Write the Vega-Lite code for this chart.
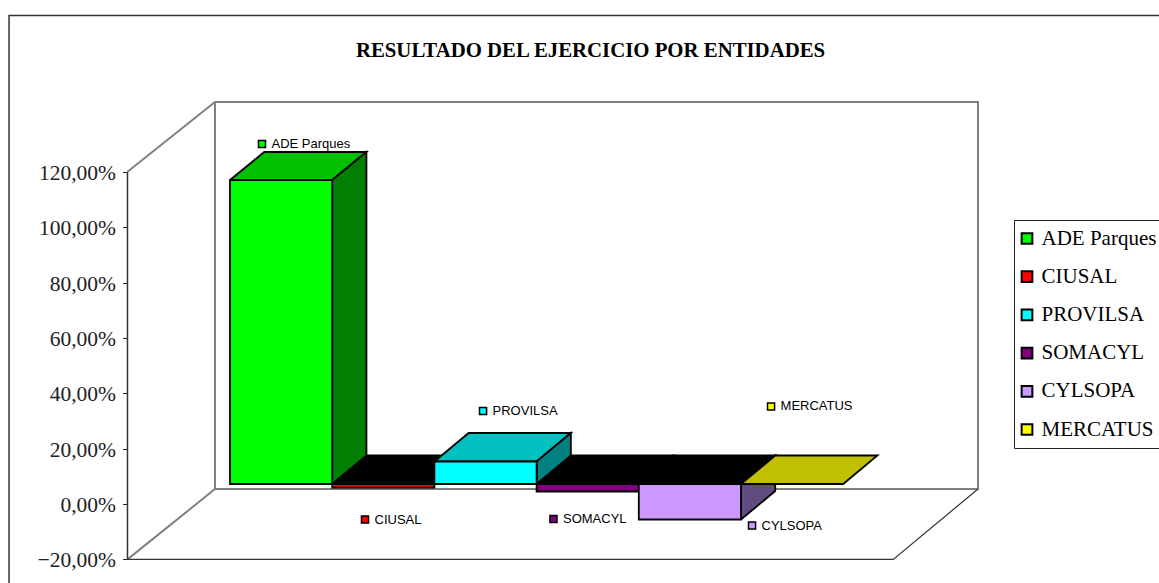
{
"$schema":"https://vega.github.io/schema/vega-lite/v6.json",
"width":1159,"height":523,"autosize":"none","padding":{"top":60,"left":0,"right":0,"bottom":0},
"background":"white",
"title":{"text":"RESULTADO DEL EJERCICIO POR ENTIDADES","font":"Liberation Serif","fontSize":20.8,"fontWeight":"bold","color":"black","anchor":"middle","offset":-47,"dx":11},
"config":{"view":{"stroke":null}},
"datasets":{
"marco":[{"parte":"a","ord":1,"x":-1.003,"y":120},{"parte":"a","ord":2,"x":-0.147,"y":145.2},{"parte":"a","ord":3,"x":7.319,"y":145.2},{"parte":"a","ord":4,"x":7.319,"y":5.42},{"parte":"a","ord":5,"x":-0.147,"y":5.42},{"parte":"a","ord":6,"x":-1.003,"y":-20},{"parte":"b","ord":1,"x":-0.147,"y":145.2},{"parte":"b","ord":2,"x":-0.147,"y":5.42}],
"suelo":[{"parte":"c","ord":1,"x":-1.003,"y":-20},{"parte":"c","ord":2,"x":6.49,"y":-20},{"parte":"c","ord":3,"x":7.319,"y":5.42}],
"eje":[{"parte":"e","ord":1,"x":-1.003,"y":120},{"parte":"e","ord":2,"x":-1.003,"y":-20}],
"borde":[{"x":-2.162,"x2":9.6,"y":176.4,"y2":-32}],
"caras":[
{"poly":"n1","cara":"negro","ord":1,"x":1,"y":7.22},{"poly":"n1","cara":"negro","ord":2,"x":2,"y":7.22},{"poly":"n1","cara":"negro","ord":3,"x":2.335,"y":17.52},{"poly":"n1","cara":"negro","ord":4,"x":1.335,"y":17.52},{"poly":"n1","cara":"negro","ord":5,"x":1,"y":7.22},
{"poly":"n3","cara":"negro","ord":1,"x":3,"y":7.22},{"poly":"n3","cara":"negro","ord":2,"x":4,"y":7.22},{"poly":"n3","cara":"negro","ord":3,"x":4.335,"y":17.52},{"poly":"n3","cara":"negro","ord":4,"x":3.335,"y":17.52},{"poly":"n3","cara":"negro","ord":5,"x":3,"y":7.22},
{"poly":"n4","cara":"negro","ord":1,"x":4,"y":7.22},{"poly":"n4","cara":"negro","ord":2,"x":5,"y":7.22},{"poly":"n4","cara":"negro","ord":3,"x":5.335,"y":17.52},{"poly":"n4","cara":"negro","ord":4,"x":4.335,"y":17.52},{"poly":"n4","cara":"negro","ord":5,"x":4,"y":7.22},
{"poly":"a1","cara":"ADE superior","ord":1,"x":0,"y":117.03},{"poly":"a1","cara":"ADE superior","ord":2,"x":1,"y":117.03},{"poly":"a1","cara":"ADE superior","ord":3,"x":1.335,"y":127.14},{"poly":"a1","cara":"ADE superior","ord":4,"x":0.335,"y":127.14},{"poly":"a1","cara":"ADE superior","ord":5,"x":0,"y":117.03},
{"poly":"a2","cara":"ADE lateral","ord":1,"x":1,"y":7.22},{"poly":"a2","cara":"ADE lateral","ord":2,"x":1,"y":117.03},{"poly":"a2","cara":"ADE lateral","ord":3,"x":1.335,"y":127.14},{"poly":"a2","cara":"ADE lateral","ord":4,"x":1.335,"y":17.52},{"poly":"a2","cara":"ADE lateral","ord":5,"x":1,"y":7.22},
{"poly":"p1","cara":"PROVILSA superior","ord":1,"x":2,"y":15.35},{"poly":"p1","cara":"PROVILSA superior","ord":2,"x":3,"y":15.35},{"poly":"p1","cara":"PROVILSA superior","ord":3,"x":3.335,"y":25.65},{"poly":"p1","cara":"PROVILSA superior","ord":4,"x":2.335,"y":25.65},{"poly":"p1","cara":"PROVILSA superior","ord":5,"x":2,"y":15.35},
{"poly":"p2","cara":"PROVILSA lateral","ord":1,"x":3,"y":7.22},{"poly":"p2","cara":"PROVILSA lateral","ord":2,"x":3,"y":15.35},{"poly":"p2","cara":"PROVILSA lateral","ord":3,"x":3.335,"y":25.65},{"poly":"p2","cara":"PROVILSA lateral","ord":4,"x":3.335,"y":17.52},{"poly":"p2","cara":"PROVILSA lateral","ord":5,"x":3,"y":7.22},
{"poly":"c2","cara":"CYLSOPA lateral","ord":1,"x":5,"y":-5.6},{"poly":"c2","cara":"CYLSOPA lateral","ord":2,"x":5,"y":7.22},{"poly":"c2","cara":"CYLSOPA lateral","ord":3,"x":5.335,"y":17.52},{"poly":"c2","cara":"CYLSOPA lateral","ord":4,"x":5.335,"y":4.7},{"poly":"c2","cara":"CYLSOPA lateral","ord":5,"x":5,"y":-5.6},
{"poly":"m1","cara":"MERCATUS superior","ord":1,"x":5,"y":7.22},{"poly":"m1","cara":"MERCATUS superior","ord":2,"x":6,"y":7.22},{"poly":"m1","cara":"MERCATUS superior","ord":3,"x":6.335,"y":17.52},{"poly":"m1","cara":"MERCATUS superior","ord":4,"x":5.335,"y":17.52},{"poly":"m1","cara":"MERCATUS superior","ord":5,"x":5,"y":7.22}
],
"barras":[
{"entidad":"ADE Parques","x":0,"x2":1,"y":7.22,"y2":117.03},
{"entidad":"CIUSAL","x":1,"x2":2,"y":7.22,"y2":5.9},
{"entidad":"PROVILSA","x":2,"x2":3,"y":7.22,"y2":15.35},
{"entidad":"SOMACYL","x":3,"x2":4,"y":7.22,"y2":4.51},
{"entidad":"CYLSOPA","x":4,"x2":5,"y":7.22,"y2":-5.6},
{"entidad":"MERCATUS","x":5,"x2":6,"y":7.22,"y2":7.22}
],
"rotulos":[
{"entidad":"ADE Parques","x":0.313,"y":130.03},
{"entidad":"CIUSAL","x":1.321,"y":-5.6},
{"entidad":"PROVILSA","x":2.476,"y":33.59},
{"entidad":"SOMACYL","x":3.165,"y":-5.42},
{"entidad":"CYLSOPA","x":5.108,"y":-7.77},
{"entidad":"MERCATUS","x":5.294,"y":35.22}
]},
"layer":[
{"data":{"name":"borde"},"mark":{"type":"rect","fill":null,"stroke":"#333333","strokeWidth":1.5,"clip":false},
 "encoding":{"x":{"field":"x","type":"quantitative","axis":null,"scale":{"domain":[-2.2505,9.09],"nice":false,"zero":false}},"x2":{"field":"x2"},
 "y":{"field":"y","type":"quantitative","title":null,"scale":{"domain":[-28.53,160.37],"nice":false,"zero":false},
  "axis":{"values":[-20,0,20,40,60,80,100,120],"orient":"left","offset":-127.5,"domain":false,"grid":false,"tickColor":"#222222","tickSize":5,"tickWidth":1,"labelFont":"Liberation Serif","labelFontSize":21.5,"labelColor":"#222222","labelPadding":7,"labelOffset":1.5,"labelExpr":"replace(format(datum.value,'.2f'),'.',',')+'%'"}},"y2":{"field":"y2"}}},
{"data":{"name":"marco"},"mark":{"type":"line","stroke":"#808080","strokeWidth":2},
 "encoding":{"x":{"field":"x","type":"quantitative"},"y":{"field":"y","type":"quantitative"},"detail":{"field":"parte"},"order":{"field":"ord"}}},
{"data":{"name":"suelo"},"mark":{"type":"line","stroke":"#333333","strokeWidth":1.2},
 "encoding":{"x":{"field":"x","type":"quantitative"},"y":{"field":"y","type":"quantitative"},"detail":{"field":"parte"},"order":{"field":"ord"}}},
{"data":{"name":"eje"},"mark":{"type":"line","stroke":"#333333","strokeWidth":1.5},
 "encoding":{"x":{"field":"x","type":"quantitative"},"y":{"field":"y","type":"quantitative"},"detail":{"field":"parte"},"order":{"field":"ord"}}},
{"data":{"name":"caras"},"mark":{"type":"line","stroke":"black","strokeWidth":1.8},
 "encoding":{"x":{"field":"x","type":"quantitative"},"y":{"field":"y","type":"quantitative"},"detail":{"field":"poly"},"order":{"field":"ord"},
  "fill":{"field":"cara","type":"nominal"}}},
{"data":{"name":"barras"},"mark":{"type":"rect","stroke":"black","strokeWidth":1.8},
 "encoding":{"x":{"field":"x","type":"quantitative"},"x2":{"field":"x2"},"y":{"field":"y","type":"quantitative"},"y2":{"field":"y2"},
  "fill":{"field":"entidad","type":"nominal","title":null,
   "scale":{"domain":["ADE Parques","CIUSAL","PROVILSA","SOMACYL","CYLSOPA","MERCATUS","negro","ADE superior","ADE lateral","PROVILSA superior","PROVILSA lateral","CYLSOPA lateral","MERCATUS superior"],
    "range":["#00ff00","#ff0000","#00ffff","#800080","#cc99ff","#ffff00","#000000","#00c000","#007f00","#00c0c0","#008080","#604c80","#c0c000"]},
   "legend":{"values":["ADE Parques","CIUSAL","PROVILSA","SOMACYL","CYLSOPA","MERCATUS"],"orient":"none","legendX":1014,"legendY":160,"padding":8,"strokeColor":"#222222","fillColor":"white","symbolType":"square","symbolSize":115,"symbolOffset":-5.5,"symbolStrokeColor":"black","symbolStrokeWidth":2,"labelFont":"Liberation Serif","labelFontSize":21,"labelColor":"black","labelLimit":200,"rowPadding":16.2,"labelOffset":4,"title":null}}}},
{"data":{"name":"rotulos"},"mark":{"type":"point","shape":"square","filled":true,"size":50,"stroke":"black","strokeWidth":1.5,"opacity":1},
 "encoding":{"x":{"field":"x","type":"quantitative"},"y":{"field":"y","type":"quantitative"},"fill":{"field":"entidad","type":"nominal"}}},
{"data":{"name":"rotulos"},"mark":{"type":"text","align":"left","baseline":"middle","dx":9.5,"font":"Liberation Sans","fontSize":13,"color":"black"},
 "encoding":{"x":{"field":"x","type":"quantitative"},"y":{"field":"y","type":"quantitative"},"text":{"field":"entidad","type":"nominal"}}}
]
}
